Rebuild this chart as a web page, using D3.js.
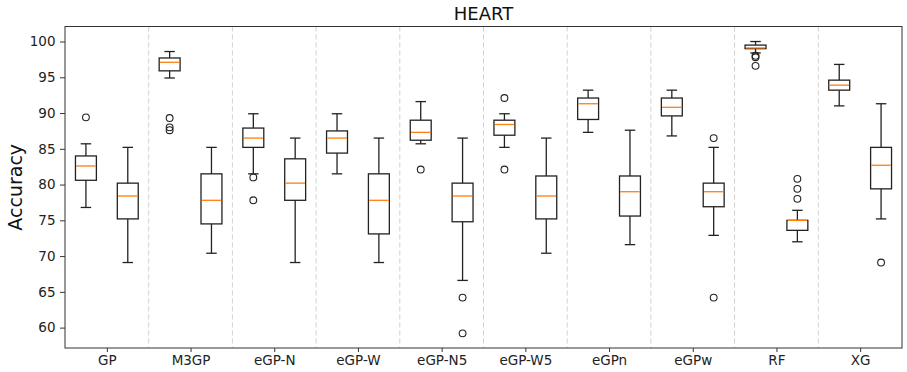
<!DOCTYPE html>
<html>
<head>
<meta charset="utf-8">
<script src="https://cdn.jsdelivr.net/npm/d3@7"></script>
<style>
    body { margin: 0; background: #fff; }
    svg text { font-family: "DejaVu Sans", sans-serif; }
</style>
</head>
<body>
<svg id="chart" width="907" height="372"></svg>
<script>
var categories = ['GP', 'M3GP', 'eGP-N', 'eGP-W', 'eGP-N5', 'eGP-W5', 'eGPn', 'eGPw', 'RF', 'XG'];

// [whisker low, q1, median, q3, whisker high] for the left box of each group
var leftStats = [
    [76.8, 80.6, 82.6, 84.0, 85.7],
    [94.9, 95.9, 97.1, 97.7, 98.6],
    [81.5, 85.2, 86.5, 87.9, 89.9],
    [81.5, 84.4, 86.5, 87.5, 89.9],
    [85.7, 86.2, 87.3, 89.0, 91.6],
    [85.2, 86.9, 88.4, 89.0, 89.9],
    [87.3, 89.1, 91.3, 92.1, 93.2],
    [86.8, 89.6, 90.8, 92.1, 93.2],
    [98.4, 99.0, 99.1, 99.5, 100.0],
    [91.0, 93.2, 93.9, 94.6, 96.8]
];
var leftOutliers = [
    [89.4],
    [89.3, 88.0, 87.6],
    [81.0, 77.8],
    [],
    [82.1],
    [92.1, 82.1],
    [],
    [],
    [98.0, 97.8, 96.6],
    []
];

// same layout for the right box of each group
var rightStats = [
    [69.1, 75.2, 78.4, 80.2, 85.2],
    [70.4, 74.5, 77.8, 81.5, 85.2],
    [69.1, 77.8, 80.2, 83.6, 86.5],
    [69.1, 73.1, 77.8, 81.5, 86.5],
    [66.6, 74.8, 78.4, 80.2, 86.5],
    [70.4, 75.2, 78.4, 81.2, 86.5],
    [71.6, 75.6, 79.0, 81.2, 87.6],
    [72.9, 76.9, 79.0, 80.2, 85.2],
    [72.0, 73.6, 75.0, 75.0, 76.4],
    [75.2, 79.4, 82.7, 85.2, 91.3]
];
var rightOutliers = [
    [],
    [],
    [],
    [],
    [64.2, 59.2],
    [],
    [],
    [86.5, 64.2],
    [80.8, 79.4, 78.0],
    [69.1]
];

var yTicks = [60, 65, 70, 75, 80, 85, 90, 95, 100];

var svg = d3.select('#chart');
var plotL = 65, plotR = 902, plotT = 26.5, plotB = 348;

var x = d3.scaleLinear().domain([0.5, categories.length * 2 + 0.5]).range([plotL, plotR]);
var y = d3.scaleLinear().domain([57.15, 102.1]).range([plotB, plotT]);
var unit = x(1) - x(0);
var boxW = unit * 0.5;

// dashed separators between groups
svg.append('g').selectAll('line')
    .data(d3.range(1, categories.length))
    .join('line')
    .attr('x1', function (i) { return x(2 * i + 0.5); })
    .attr('x2', function (i) { return x(2 * i + 0.5); })
    .attr('y1', plotT).attr('y2', plotB)
    .attr('stroke', '#d0d0d0')
    .attr('stroke-width', 1)
    .attr('stroke-dasharray', '5,3');

function drawBoxes(stats, outliers, offset) {
    var g = svg.append('g');
    stats.forEach(function (s, i) {
        var cx = x(2 * i + offset);
        var b = g.append('g').attr('stroke', '#222').attr('stroke-width', 1.3).attr('fill', 'none');
        // whiskers
        b.append('line').attr('x1', cx).attr('x2', cx).attr('y1', y(s[0])).attr('y2', y(s[1]));
        b.append('line').attr('x1', cx).attr('x2', cx).attr('y1', y(s[3])).attr('y2', y(s[4]));
        // caps
        b.append('line').attr('x1', cx - boxW / 4).attr('x2', cx + boxW / 4).attr('y1', y(s[0])).attr('y2', y(s[0]));
        b.append('line').attr('x1', cx - boxW / 4).attr('x2', cx + boxW / 4).attr('y1', y(s[4])).attr('y2', y(s[4]));
        // box
        b.append('rect')
            .attr('x', cx - boxW / 2).attr('width', boxW)
            .attr('y', y(s[3])).attr('height', y(s[1]) - y(s[3]));
        // median
        g.append('line')
            .attr('x1', cx - boxW / 2 + 0.7).attr('x2', cx + boxW / 2 - 0.7)
            .attr('y1', y(s[2])).attr('y2', y(s[2]))
            .attr('stroke', '#ff7f0e').attr('stroke-width', 1.3);
        // fliers
        g.selectAll(null)
            .data(outliers[i])
            .join('circle')
            .attr('cx', cx).attr('cy', function (d) { return y(d); })
            .attr('r', 3.4)
            .attr('fill', 'none').attr('stroke', '#222').attr('stroke-width', 1.1);
    });
}

drawBoxes(leftStats, leftOutliers, 1);
drawBoxes(rightStats, rightOutliers, 2);

// axes
var yAxis = d3.axisLeft(y).tickValues(yTicks).tickSize(5).tickPadding(4.5);
var gy = svg.append('g').attr('transform', 'translate(' + plotL + ',0)').call(yAxis);
gy.select('.domain').remove();
gy.attr('font-family', null);
gy.selectAll('text').attr('font-size', 13.5).attr('fill', '#222');
gy.selectAll('line').attr('stroke', '#333');

var xAxis = d3.axisBottom(x)
    .tickValues(categories.map(function (c, i) { return 2 * i + 1.5; }))
    .tickFormat(function (d, i) { return categories[i]; })
    .tickSize(4).tickPadding(3);
var gx = svg.append('g').attr('transform', 'translate(0,' + plotB + ')').call(xAxis);
gx.select('.domain').remove();
gx.attr('font-family', null);
gx.selectAll('text').attr('font-size', 13.5).attr('fill', '#222');
gx.selectAll('line').attr('stroke', '#333');

// frame
svg.append('rect')
    .attr('x', plotL).attr('y', plotT)
    .attr('width', plotR - plotL).attr('height', plotB - plotT)
    .attr('fill', 'none').attr('stroke', '#333').attr('stroke-width', 1);

svg.append('text')
    .attr('x', (plotL + plotR) / 2).attr('y', 20)
    .attr('text-anchor', 'middle')
    .attr('font-size', 18).attr('fill', '#111')
    .text('HEART');

svg.append('text')
    .attr('transform', 'translate(22,' + ((plotT + plotB) / 2) + ') rotate(-90)')
    .attr('text-anchor', 'middle')
    .attr('font-size', 19).attr('fill', '#111')
    .text('Accuracy');
</script>
</body>
</html>
